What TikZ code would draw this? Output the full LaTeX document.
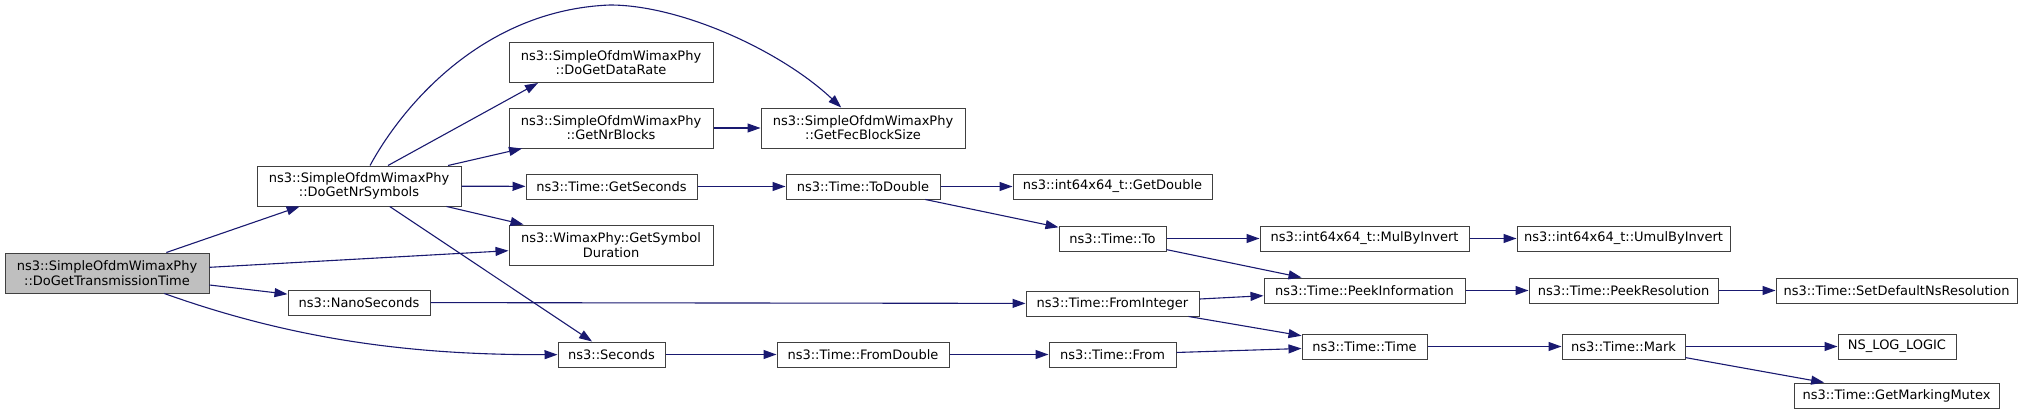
\documentclass[tikz,border=0pt]{standalone}
\usepackage{fontspec}
\setmainfont{DejaVu Sans}
\usetikzlibrary{arrows.meta}

\definecolor{edgeblue}{HTML}{191970}
\definecolor{rootgray}{HTML}{BFBFBF}
\definecolor{boxline}{HTML}{404040}

\tikzset{
  fn/.style={draw=boxline, line width=1pt, fill=white, inner sep=0pt, align=center,
    font=\fontsize{13}{14.3}\selectfont, minimum height=25pt},
  two/.style={minimum height=40pt},
  call/.style={draw=edgeblue, line width=1.1pt, -{Triangle[length=13pt,width=9pt]}}
}

\begin{document}
\begin{tikzpicture}[x=1pt, y=-1pt]
  \useasboundingbox (0,0) rectangle (2039,415);
  % caller and first level
  \node[fn, two, fill=rootgray, minimum width=204pt] (dgtt) at (107,273) {ns3::SimpleOfdmWimaxPhy\\::DoGetTransmissionTime};
  \node[fn, two, minimum width=204pt] (nrsym) at (359,186) {ns3::SimpleOfdmWimaxPhy\\::DoGetNrSymbols};
  \node[fn, minimum width=142pt] (nano) at (359,302.5) {ns3::NanoSeconds};
  % column 3
  \node[fn, two, minimum width=204pt] (datarate) at (611,62.5) {ns3::SimpleOfdmWimaxPhy\\::DoGetDataRate};
  \node[fn, two, minimum width=204pt] (nrblocks) at (611,128) {ns3::SimpleOfdmWimaxPhy\\::GetNrBlocks};
  \node[fn, minimum width=171pt] (getsec) at (611.5,186.5) {ns3::Time::GetSeconds};
  \node[fn, two, minimum width=204pt] (symdur) at (611,245) {ns3::WimaxPhy::GetSymbol\\Duration};
  \node[fn, minimum width=107pt] (seconds) at (611.5,354.5) {ns3::Seconds};
  % column 4
  \node[fn, two, minimum width=204pt] (fecblock) at (863,128) {ns3::SimpleOfdmWimaxPhy\\::GetFecBlockSize};
  \node[fn, minimum width=154pt] (todouble) at (863,186.5) {ns3::Time::ToDouble};
  \node[fn, minimum width=172pt] (fromdouble) at (863,354.5) {ns3::Time::FromDouble};
  % column 5
  \node[fn, minimum width=199pt] (getdouble) at (1112.5,186.5) {ns3::int64x64\_t::GetDouble};
  \node[fn, minimum width=107pt] (timeto) at (1112.5,238.5) {ns3::Time::To};
  \node[fn, minimum width=173pt] (fromint) at (1112.5,303.5) {ns3::Time::FromInteger};
  \node[fn, minimum width=127pt] (timefrom) at (1112.5,354.5) {ns3::Time::From};
  % column 6
  \node[fn, minimum width=209pt] (mulby) at (1364.5,238.5) {ns3::int64x64\_t::MulByInvert};
  \node[fn, minimum width=201pt] (peekinfo) at (1364.5,290.5) {ns3::Time::PeekInformation};
  \node[fn, minimum width=125pt] (timetime) at (1364.5,346.5) {ns3::Time::Time};
  % column 7
  \node[fn, minimum width=213pt] (umulby) at (1623.5,238.5) {ns3::int64x64\_t::UmulByInvert};
  \node[fn, minimum width=189pt] (peekres) at (1623.5,290.5) {ns3::Time::PeekResolution};
  \node[fn, minimum width=123pt] (mark) at (1623.5,346.5) {ns3::Time::Mark};
  % column 8
  \node[fn, minimum width=241pt] (setdef) at (1896.5,290.5) {ns3::Time::SetDefaultNsResolution};
  \node[fn, minimum width=118pt] (nslog) at (1897,346.5) {NS\_LOG\_LOGIC};
  \node[fn, minimum width=205pt] (mutex) at (1896.5,395.5) {ns3::Time::GetMarkingMutex};

  % calls
  \draw[call] (dgtt) -- (nrsym);
  \draw[call] (dgtt) -- (symdur);
  \draw[call] (dgtt) -- (nano);
  \draw[call] (dgtt) .. controls (300,342) and (420,355) .. (seconds);
  \draw[call] ([xshift=29pt]nrsym.north) -- ([xshift=-73pt]datarate.south);
  \draw[call] (nrsym) .. controls (400,110) and (480,10) .. (610,5)
    .. controls (680,5) and (780,50) .. (fecblock);
  \draw[call] (nrsym) -- (nrblocks);
  \draw[call] (nrsym) -- (getsec);
  \draw[call] (nrsym) -- (symdur);
  \draw[call] (nrsym) -- (seconds);
  \draw[call] (nrblocks) -- (fecblock);
  \draw[call] (getsec) -- (todouble);
  \draw[call] (todouble) -- (getdouble);
  \draw[call] (todouble) -- (timeto);
  \draw[call] (timeto) -- (mulby);
  \draw[call] (timeto) -- (peekinfo);
  \draw[call] (mulby) -- (umulby);
  \draw[call] (nano) -- (fromint);
  \draw[call] (fromint) -- (peekinfo);
  \draw[call] (fromint) -- (timetime);
  \draw[call] (seconds) -- (fromdouble);
  \draw[call] (fromdouble) -- (timefrom);
  \draw[call] (timefrom) -- (timetime);
  \draw[call] (peekinfo) -- (peekres);
  \draw[call] (peekres) -- (setdef);
  \draw[call] (timetime) -- (mark);
  \draw[call] (mark) -- (nslog);
  \draw[call] (mark) -- (mutex);
\end{tikzpicture}
\end{document}
